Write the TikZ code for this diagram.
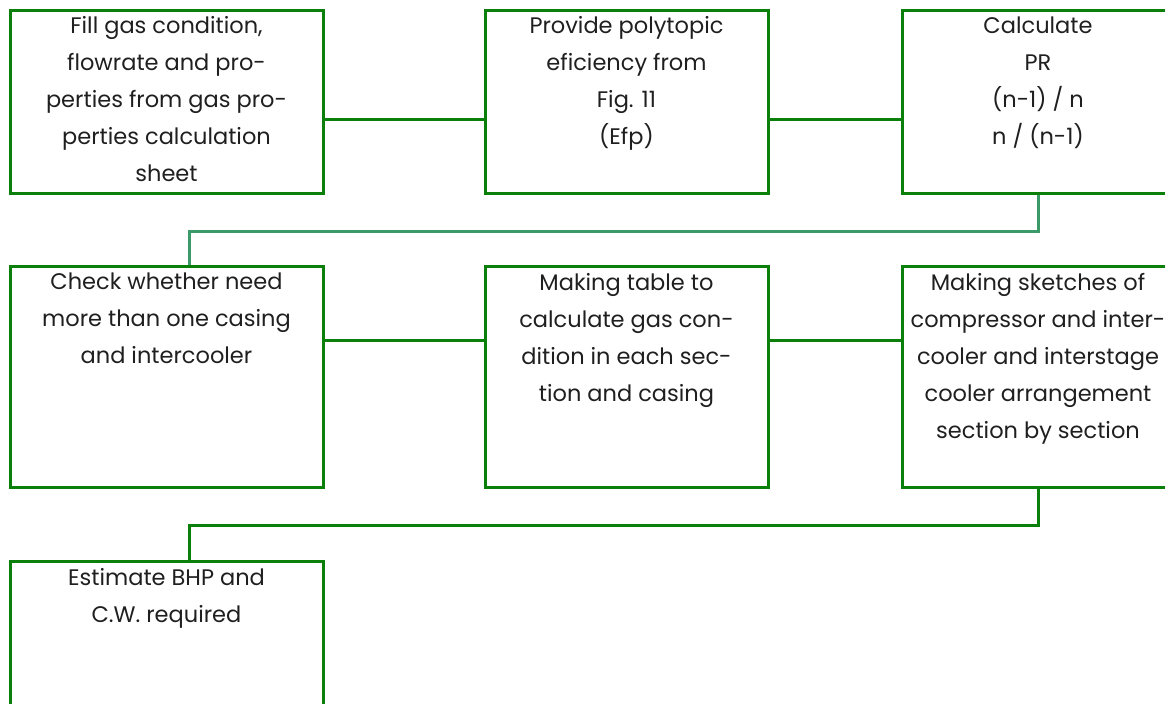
\documentclass[tikz,border=0pt]{standalone}
\usepackage{fontspec}
\setmainfont{Poppins}
\definecolor{boxgreen}{HTML}{0A800A}
\definecolor{tealgreen}{HTML}{3A9A68}
\begin{document}
\begin{tikzpicture}[x=1pt,y=-1pt,
  box/.style={draw=boxgreen, line width=3pt, rectangle, inner sep=0pt},
  txt/.style={anchor=north, align=center, text=black!88, inner sep=0pt,
    font=\fontsize{22.5}{37}\selectfont},
  link/.style={draw=boxgreen, line width=3pt},
  tlink/.style={draw=tealgreen, line width=3pt}]
\useasboundingbox (0,0) rectangle (1165,704);
% row 1
\node[box, minimum width=313pt, minimum height=183pt] (a) at (166.5,101.5) {};
\node[box, minimum width=283pt, minimum height=183pt] (b) at (626.5,101.5) {};
\node[box, minimum width=272pt, minimum height=183pt] (c) at (1038,101.5) {};
% row 2
\node[box, minimum width=313pt, minimum height=221pt] (d) at (166.5,377) {};
\node[box, minimum width=283pt, minimum height=221pt] (e) at (626.5,377) {};
\node[box, minimum width=272pt, minimum height=221pt] (f) at (1038,377) {};
% row 3
\node[box, minimum width=313pt, minimum height=221pt] (g) at (166.5,672) {};
% texts
\node[txt] (ta) at ([yshift=-8pt]a.north) {Fill gas condition,\\flowrate and pro-\\perties from gas pro-\\perties calculation\\sheet};
\node[txt] (tb) at ([yshift=-8pt]b.north) {Provide polytopic\\eficiency from\\Fig. 11\\(Efp)};
\node[txt] (tc) at ([yshift=-8pt]c.north) {Calculate\\PR\\(n-1) / n\\n / (n-1)};
\node[txt] (td) at ([yshift=-8pt]d.north) {Check whether need\\more than one casing\\and intercooler};
\node[txt] (te) at ([yshift=-8pt]e.north) {Making table to\\calculate gas con-\\dition in each sec-\\tion and casing};
\node[txt] (tf) at ([yshift=-8pt]f.north) {Making sketches of\\compressor and inter-\\cooler and interstage\\cooler arrangement\\section by section};
\node[txt] (tg) at ([yshift=-8pt]g.north) {Estimate BHP and\\C.W. required};
% connectors
\draw[link] ([yshift=-17.5pt]a.east) -- ([yshift=-17.5pt]b.west);
\draw[link] ([yshift=-17.5pt]b.east) -- ([yshift=-17.5pt]c.west);
\draw[tlink] (c.south) -- ++(0,37) -| ([xshift=22.5pt]d.north);
\draw[link] ([yshift=37pt]d.east) -- ([yshift=37pt]e.west);
\draw[link] ([yshift=37pt]e.east) -- ([yshift=37pt]f.west);
\draw[link] (f.south) -- ++(0,36.5) -| ([xshift=22.5pt]g.north);
\end{tikzpicture}
\end{document}
